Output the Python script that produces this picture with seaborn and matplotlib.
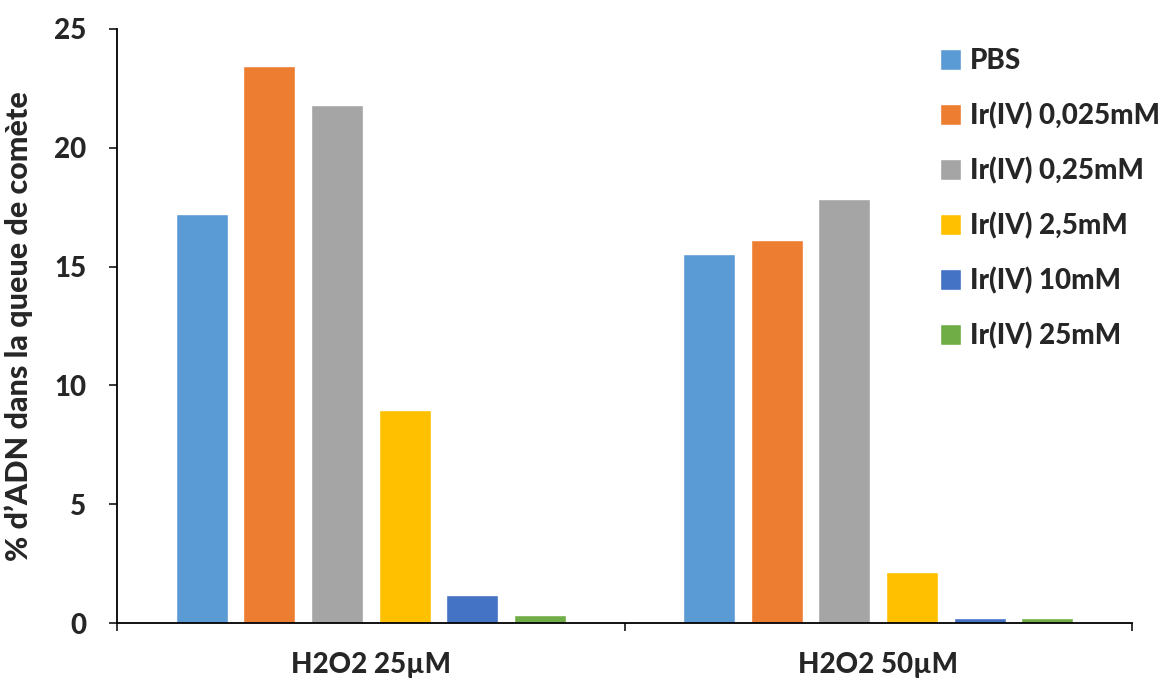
import pandas as pd
import seaborn as sns
import matplotlib.pyplot as plt
from matplotlib.ticker import FixedLocator

# values
conditions = ["H2O2 25µM", "H2O2 50µM"]
treatments = ["PBS", "Ir(IV) 0,025mM", "Ir(IV) 0,25mM", "Ir(IV) 2,5mM", "Ir(IV) 10mM", "Ir(IV) 25mM"]
vals_25 = [17.2, 23.45, 21.8, 8.95, 1.2, 0.32]
vals_50 = [15.55, 16.1, 17.85, 2.15, 0.22, 0.2]
colors = ["#5B9BD5", "#ED7D31", "#A5A5A5", "#FFC000", "#4472C4", "#70AD47"]

df = pd.DataFrame({
    "cond": [conditions[0]] * len(treatments) + [conditions[1]] * len(treatments),
    "trt": treatments * 2,
    "val": vals_25 + vals_50,
})

sns.set_style("white")
plt.rcParams["font.family"] = ["Lato", "DejaVu Sans"]
W = "black"

fig = plt.figure(figsize=(11.74, 6.8), dpi=100)
ax = fig.add_axes([0.0997, 0.0838, 0.8645, 0.8736])

sns.barplot(data=df, x="cond", y="val", hue="trt", hue_order=treatments,
            palette=colors, width=0.8, gap=0.23, saturation=1, ax=ax)

ax.set_ylim(0, 25)
ax.set_xlim(-0.5, 1.5)
ax.set_yticks([0, 5, 10, 15, 20, 25])
ax.tick_params(axis="y", length=6, width=1.3, pad=16, labelsize=20, direction="out", left=True)
ax.tick_params(axis="x", which="major", length=0, pad=21, labelsize=20)
ax.xaxis.set_minor_locator(FixedLocator([-0.5, 0.5, 1.5]))
ax.tick_params(axis="x", which="minor", length=6, width=1.3, direction="out", bottom=True)
for lab in ax.get_xticklabels() + ax.get_yticklabels():
    lab.set_fontweight(W)

ax.set_xlabel("")
ax.set_ylabel("% d’ADN dans la queue de comète", fontsize=22, fontweight=W)
ax.yaxis.set_label_coords(-0.083, 0.5)

sns.despine(ax=ax)
for s in ["left", "bottom"]:
    ax.spines[s].set_color("black")
    ax.spines[s].set_linewidth(1.3)

ax.legend(loc="upper left", bbox_to_anchor=(0.786, 1.01), frameon=False,
          handlelength=0.75, handleheight=0.75, handletextpad=0.35,
          labelspacing=1.0, prop={"size": 20, "weight": W})

fig.savefig("out.png", dpi=100)
